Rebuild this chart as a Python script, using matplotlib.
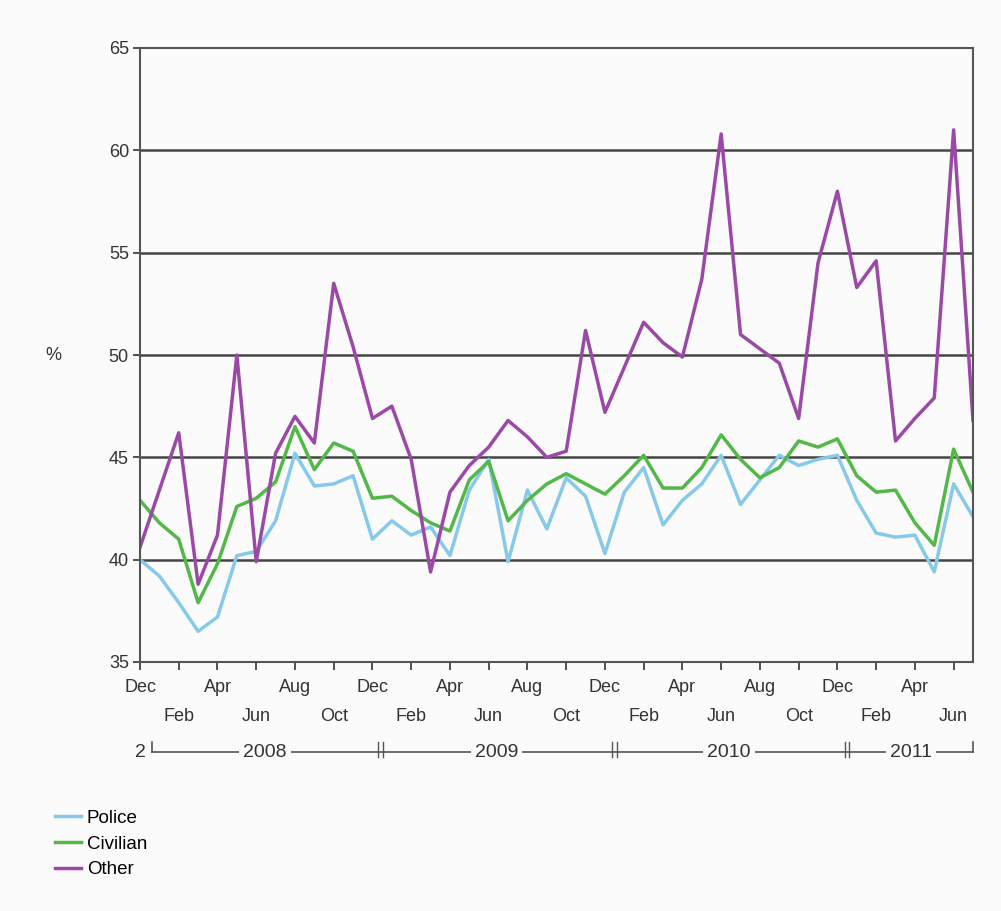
import numpy as np
import matplotlib
matplotlib.use("Agg")
import matplotlib.pyplot as plt
from matplotlib.lines import Line2D

# monthly series, Dec 2007 .. Jul 2011
months = ['Dec', 'Jan', 'Feb', 'Mar', 'Apr', 'May', 'Jun', 'Jul', 'Aug', 'Sep', 'Oct', 'Nov'] * 4
months = months[:44]

police = [40.0, 39.2, 37.9, 36.5, 37.2, 40.2, 40.4, 41.9, 45.2, 43.6, 43.7, 44.1,
          41.0, 41.9, 41.2, 41.6, 40.2, 43.4, 44.9, 39.9, 43.4, 41.5, 44.0, 43.1,
          40.3, 43.3, 44.5, 41.7, 42.9, 43.7, 45.1, 42.7, 43.9, 45.1, 44.6, 44.9,
          45.1, 42.9, 41.3, 41.1, 41.2, 39.4, 43.7, 42.1]
civilian = [42.9, 41.8, 41.0, 37.9, 39.8, 42.6, 43.0, 43.8, 46.5, 44.4, 45.7, 45.3,
            43.0, 43.1, 42.4, 41.8, 41.4, 43.9, 44.8, 41.9, 42.9, 43.7, 44.2, 43.7,
            43.2, 44.1, 45.1, 43.5, 43.5, 44.5, 46.1, 44.9, 44.0, 44.5, 45.8, 45.5,
            45.9, 44.1, 43.3, 43.4, 41.8, 40.7, 45.4, 43.3]
other = [40.6, 43.4, 46.2, 38.8, 41.2, 50.0, 39.9, 45.2, 47.0, 45.7, 53.5, 50.4,
         46.9, 47.5, 44.9, 39.4, 43.3, 44.6, 45.5, 46.8, 46.0, 45.0, 45.3, 51.2,
         47.2, 49.4, 51.6, 50.6, 49.9, 53.7, 60.8, 51.0, 50.3, 49.6, 46.9, 54.5,
         58.0, 53.3, 54.6, 45.8, 46.9, 47.9, 61.0, 46.8]

series_names = ['Police', 'Civilian', 'Other']
series_colors = ['#86c9ea', '#52b848', '#9a4aa6']

years = ['2008', '2009', '2010', '2011']
year_centers = [6.45, 18.4, 30.4, 39.8]
year_breaks = [12.4, 24.5, 36.5]

plt.rcParams['font.family'] = ['Liberation Sans', 'DejaVu Sans']
fs = 13
txt_col = '#333333'

fig = plt.figure(figsize=(10.01, 9.11), dpi=100)
fig.patch.set_facecolor('#fbfbfb')
ax = fig.add_axes([140 / 1001, 1 - 662 / 911, 833 / 1001, 614 / 911])
ax.set_facecolor('#fbfbfb')

x = np.arange(len(police))
for vals, name, col in zip([police, civilian, other], series_names, series_colors):
    ax.plot(x, vals, color=col, lw=2.5, label=name)

ax.set_xlim(0, 43)
ax.set_ylim(35, 65)
ax.set_yticks(range(35, 66, 5))
for g in range(40, 61, 5):
    ax.axhline(g, color='#454545', lw=1.8, zorder=0)

major = [i for i in range(0, 44, 4)]
minor = [i for i in range(2, 44, 4)]
ax.set_xticks(major)
ax.set_xticklabels([months[i] for i in major])
ax.set_xticks(minor, minor=True)
ax.set_xticklabels([months[i] for i in minor], minor=True)
ax.tick_params(axis='x', which='major', length=6, width=1.2, pad=6, labelsize=fs, colors=txt_col)
ax.tick_params(axis='x', which='minor', length=6, width=1.2, pad=27, labelsize=fs, colors=txt_col)
ax.tick_params(axis='y', length=5, width=1.2, pad=3, labelsize=fs, colors=txt_col)

for s in ax.spines.values():
    s.set_color('#555555')
    s.set_linewidth(1.5)

fig.text(45 / 1001, 1 - 355 / 911, '%', fontsize=fs, color=txt_col, va='center')

# year row under the month labels
tr = ax.get_xaxis_transform()
yy = -0.1466
ax.plot([0.6, 43], [yy, yy], transform=tr, color='#555555', lw=1.2, clip_on=False)
ax.plot([0.6, 0.6], [yy, yy + 0.016], transform=tr, color='#555555', lw=1.2, clip_on=False)
ax.plot([43, 43], [yy, yy + 0.016], transform=tr, color='#555555', lw=1.2, clip_on=False)
ax.text(0.0, yy, '2', transform=tr, ha='center', va='center', fontsize=fs + 1, color=txt_col)
for b in year_breaks:
    for dx in (-0.12, 0.12):
        ax.plot([b + dx, b + dx], [yy - 0.008, yy + 0.016], transform=tr,
                color='#555555', lw=1.0, clip_on=False)
for yr, xc in zip(years, year_centers):
    ax.text(xc, yy, yr, transform=tr, ha='center', va='center', fontsize=fs + 1,
            color=txt_col, bbox=dict(facecolor='#fbfbfb', edgecolor='none', pad=3))

handles = [Line2D([], [], color=c, lw=2.5) for c in series_colors]
fig.legend(handles, series_names, loc='upper left', bbox_to_anchor=(38 / 1001, 1 - 793 / 911),
           frameon=False, fontsize=fs + 0.5, handlelength=1.4, handletextpad=0.3, labelspacing=0.45)

fig.savefig('out.png', dpi=100, facecolor=fig.get_facecolor())
